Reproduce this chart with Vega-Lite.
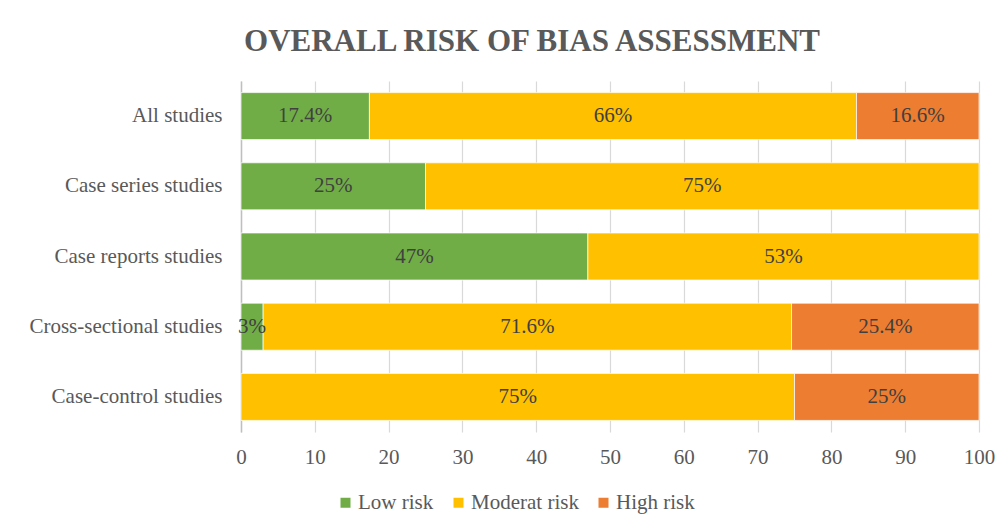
{
  "$schema": "https://vega.github.io/schema/vega-lite/v6.json",
  "width": 738,
  "height": 351,
  "autosize": {"type": "none"},
  "padding": {"left": 241, "top": 81, "right": 29, "bottom": 99},
  "background": "white",
  "title": {
    "text": "OVERALL RISK OF BIAS ASSESSMENT",
    "font": "Liberation Serif",
    "fontSize": 31,
    "fontWeight": "bold",
    "color": "#595959",
    "anchor": "middle",
    "frame": "group",
    "dx": -78,
    "offset": 23
  },
  "config": {"view": {"stroke": null}},
  "data": {
    "values": [
      {"study": "All studies", "risk": "Low risk", "value": 17.4, "label": "17.4%", "ord": 1},
      {"study": "All studies", "risk": "Moderat risk", "value": 66, "label": "66%", "ord": 2},
      {"study": "All studies", "risk": "High risk", "value": 16.6, "label": "16.6%", "ord": 3},
      {"study": "Case series studies", "risk": "Low risk", "value": 25, "label": "25%", "ord": 1},
      {"study": "Case series studies", "risk": "Moderat risk", "value": 75, "label": "75%", "ord": 2},
      {"study": "Case reports studies", "risk": "Low risk", "value": 47, "label": "47%", "ord": 1},
      {"study": "Case reports studies", "risk": "Moderat risk", "value": 53, "label": "53%", "ord": 2},
      {"study": "Cross-sectional studies", "risk": "Low risk", "value": 3, "label": "3%", "ord": 1},
      {"study": "Cross-sectional studies", "risk": "Moderat risk", "value": 71.6, "label": "71.6%", "ord": 2},
      {"study": "Cross-sectional studies", "risk": "High risk", "value": 25.4, "label": "25.4%", "ord": 3},
      {"study": "Case-control studies", "risk": "Moderat risk", "value": 75, "label": "75%", "ord": 2},
      {"study": "Case-control studies", "risk": "High risk", "value": 25, "label": "25%", "ord": 3}
    ]
  },
  "transform": [
    {"stack": "value", "groupby": ["study"], "sort": [{"field": "ord"}], "as": ["x0", "x1"]},
    {"calculate": "(datum.x0 + datum.x1) / 2", "as": "xm"}
  ],
  "encoding": {
    "y": {
      "field": "study",
      "type": "nominal",
      "sort": ["All studies", "Case series studies", "Case reports studies", "Cross-sectional studies", "Case-control studies"],
      "scale": {"paddingInner": 0.33, "paddingOuter": 0.165},
      "axis": {
        "title": null,
        "labelFont": "Liberation Serif",
        "labelFontSize": 21,
        "labelColor": "#595959",
        "labelPadding": 19,
        "ticks": false,
        "domain": true,
        "domainColor": "#bfbfbf",
        "domainWidth": 1.5,
        "labelLimit": 300
      }
    }
  },
  "layer": [
    {
      "mark": {"type": "bar", "stroke": "white", "strokeWidth": 0.7},
      "encoding": {
        "x": {
          "field": "x0",
          "type": "quantitative",
          "scale": {"domain": [0, 100], "nice": false},
          "axis": {
            "title": null,
            "values": [0, 10, 20, 30, 40, 50, 60, 70, 80, 90, 100],
            "grid": true,
            "gridColor": "#d9d9d9",
            "gridWidth": 1.2,
            "domain": false,
            "ticks": false,
            "labelFont": "Liberation Serif",
            "labelFontSize": 21,
            "labelColor": "#595959",
            "labelPadding": 14,
            "labelFlush": false,
            "labelOverlap": false
          }
        },
        "x2": {"field": "x1"},
        "color": {
          "field": "risk",
          "type": "nominal",
          "scale": {"domain": ["Low risk", "Moderat risk", "High risk"], "range": ["#70AD47", "#FFC000", "#ED7D31"]},
          "legend": {
            "title": null,
            "orient": "none",
            "legendX": 94,
            "legendY": 411,
            "direction": "horizontal",
            "symbolType": "square",
            "symbolSize": 100,
            "symbolStrokeWidth": 0,
            "labelFont": "Liberation Serif",
            "labelFontSize": 21,
            "labelColor": "#595959",
            "columnPadding": 14,
            "labelOffset": 2
          }
        }
      }
    },
    {
      "mark": {"type": "text", "font": "Liberation Serif", "fontSize": 21, "color": "#404040"},
      "encoding": {
        "x": {"field": "xm", "type": "quantitative"},
        "text": {"field": "label"}
      }
    }
  ]
}
